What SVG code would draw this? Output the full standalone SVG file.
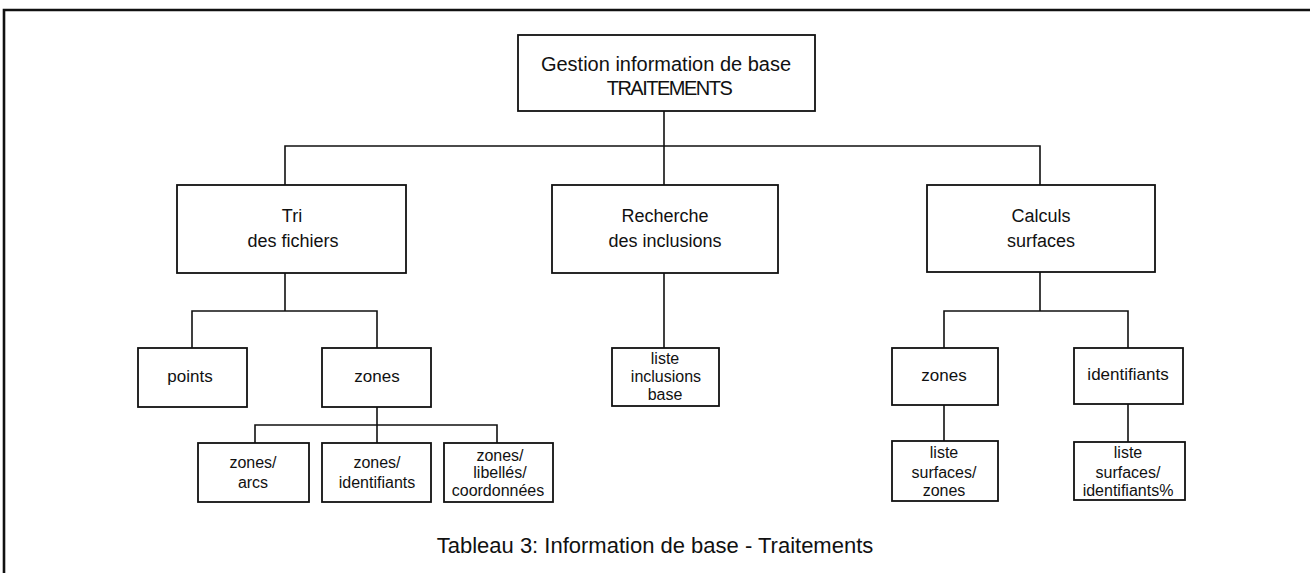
<svg xmlns="http://www.w3.org/2000/svg" width="1310" height="573" viewBox="0 0 1310 573">
<style>
.box{fill:#fff;stroke:#111;stroke-width:1.8}
.ln{fill:none;stroke:#111;stroke-width:1.6}
.frame{fill:none;stroke:#111;stroke-width:2.6}
text{font-family:"Liberation Sans",Arial,sans-serif;fill:#111;text-anchor:middle}
.t1{font-size:20px}
.t2{font-size:18px}
.t3{font-size:17px}
.t4{font-size:16px}
.cap{font-size:22px}
</style>
<rect width="1310" height="573" fill="#fff"/>
<path class="frame" d="M4,573 V10 H1310"/>
<g id="connectors">
<path class="ln" d="M664,111 V185 M664,273 V348"/>
<path class="ln" d="M285,185 V146 H1040 V185"/>
<path class="ln" d="M285,273 V311 M192,348 V311 H377 V348"/>
<path class="ln" d="M377,407 V443 M255,443 V425 H497 V443"/>
<path class="ln" d="M1040,272 V311 M944,348 V311 H1128 V348"/>
<path class="ln" d="M944,405 V441 M1128,404 V442"/>
</g>
<g id="root"><rect class="box" x="518" y="35" width="297" height="76"/>
<text class="t1" x="666" y="71">Gestion information de base</text>
<text class="t1" x="669" y="95" letter-spacing="-1.5">TRAITEMENTS</text></g>
<g id="tri"><rect class="box" x="177" y="185" width="229" height="88"/>
<text class="t2" x="292" y="222">Tri</text>
<text class="t2" x="293" y="247">des fichiers</text></g>
<g id="recherche"><rect class="box" x="552" y="185" width="226" height="88"/>
<text class="t2" x="665" y="222">Recherche</text>
<text class="t2" x="665" y="247">des inclusions</text></g>
<g id="calculs"><rect class="box" x="927" y="185" width="228" height="87"/>
<text class="t2" x="1041" y="222">Calculs</text>
<text class="t2" x="1041" y="247">surfaces</text></g>
<g id="points"><rect class="box" x="138" y="348" width="109" height="59"/>
<text class="t3" x="190" y="382">points</text></g>
<g id="zones1"><rect class="box" x="322" y="348" width="109" height="59"/>
<text class="t3" x="377" y="382">zones</text></g>
<g id="zonesarcs"><rect class="box" x="198" y="443" width="111" height="59"/>
<text class="t4" x="253" y="468">zones/</text>
<text class="t4" x="253" y="488">arcs</text></g>
<g id="zonesident"><rect class="box" x="322" y="443" width="109" height="59"/>
<text class="t4" x="377" y="468">zones/</text>
<text class="t4" x="377" y="488">identifiants</text></g>
<g id="zoneslib"><rect class="box" x="444" y="443" width="109" height="59"/>
<text class="t4" x="500" y="461">zones/</text>
<text class="t4" x="500" y="478">libellés/</text>
<text class="t4" x="498" y="496">coordonnées</text></g>
<g id="listeincl"><rect class="box" x="612" y="348" width="107" height="58"/>
<text class="t4" x="665" y="364">liste</text>
<text class="t4" x="666" y="382">inclusions</text>
<text class="t4" x="665" y="400">base</text></g>
<g id="zones2"><rect class="box" x="892" y="348" width="106" height="57"/>
<text class="t3" x="944" y="381">zones</text></g>
<g id="identifiants"><rect class="box" x="1074" y="348" width="109" height="56"/>
<text class="t3" x="1128" y="380">identifiants</text></g>
<g id="listesurfzones"><rect class="box" x="892" y="441" width="106" height="60"/>
<text class="t4" x="944" y="458">liste</text>
<text class="t4" x="944" y="478">surfaces/</text>
<text class="t4" x="944" y="496">zones</text></g>
<g id="listesurfident"><rect class="box" x="1074" y="442" width="111" height="58"/>
<text class="t4" x="1128" y="458">liste</text>
<text class="t4" x="1128" y="478">surfaces/</text>
<text class="t4" x="1128" y="496">identifiants%</text></g>
<text class="cap" x="655" y="553">Tableau 3: Information de base - Traitements</text>
</svg>
